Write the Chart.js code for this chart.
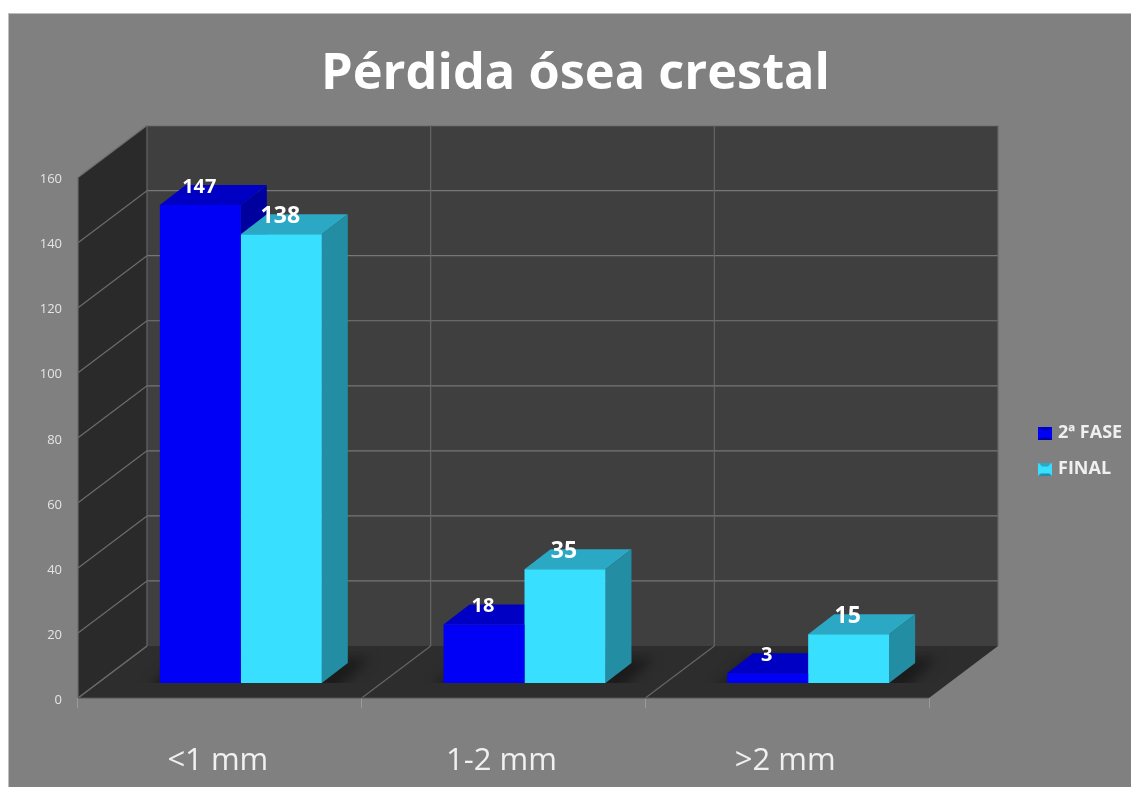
<!DOCTYPE html>
<html>
<head>
<meta charset="utf-8">
<title>Pérdida ósea crestal</title>
<script src="https://cdn.jsdelivr.net/npm/chart.js@4"></script>
<style>
    html, body { margin: 0; padding: 0; background: #fff; overflow: hidden; }
    #panel { position: absolute; left: 8px; top: 13px; right: 0; bottom: 0; background: #808080; border-left: 1px solid #bdbdbd; border-top: 1px solid #bdbdbd; }
    #wrap { position: absolute; left: 0; top: 0; width: 1131px; height: 787px; filter: blur(0.5px); }
</style>
</head>
<body>
<div id="panel"></div>
<div id="wrap"><canvas id="chart" width="1131" height="787"></canvas></div>
<script>
const categories = ["<1 mm", "1-2 mm", ">2 mm"];
const fase2Values = [147, 18, 3];
const finalValues = [138, 35, 15];
const seriesNames = ["2ª FASE", "FINAL"];

// colours per series: front, top, side
const seriesColors = [
    { front: "#0000f6", top: "#0000c4", side: "#00009e" },
    { front: "#39dfff", top: "#2ba8c3", side: "#238da4" },
];

// fake 3D depth, in pixels
const WALL_DX = 69, WALL_DY = -52;
const BAR_DX = 21, BAR_DY = -15;
const DEPTH_DX = 26, DEPTH_DY = -20;

function polygon(ctx, points, fill) {
    ctx.beginPath();
    points.forEach((p, i) => (i ? ctx.lineTo(p[0], p[1]) : ctx.moveTo(p[0], p[1])));
    ctx.closePath();
    ctx.fillStyle = fill;
    ctx.fill();
}

function line(ctx, x1, y1, x2, y2, color) {
    ctx.beginPath();
    ctx.moveTo(x1, y1);
    ctx.lineTo(x2, y2);
    ctx.strokeStyle = color;
    ctx.lineWidth = 1.2;
    ctx.stroke();
}

function legendIcon(colors) {
    const icon = document.createElement("canvas");
    icon.width = 14;
    icon.height = 13;
    const c = icon.getContext("2d");
    c.fillStyle = colors.front;
    c.fillRect(0, 0, 14, 13);
    polygon(c, [[0, 0], [14, 0], [10, 4], [4, 4]], colors.top);
    polygon(c, [[0, 13], [14, 13], [11, 11], [3, 11]], colors.side);
    return icon;
}

const box3dPlugin = {
    id: "box3d",
    beforeLayout(chart) {
        // keep the empty strip between the walls and the legend
        const legend = chart.legend;
        if (!legend._fit) {
            legend._fit = legend.fit;
            legend.fit = function () {
                this._fit();
                this.width = 202;
            };
        }
    },
    afterLayout(chart) {
        const legend = chart.legend;
        legend.left = 1023;
        legend.right = 1131;
        legend.top = 406;
        legend.bottom = 698;
    },
    beforeDatasetsDraw(chart) {
        const { ctx, chartArea: area, scales } = chart;
        const { left, right, top, bottom } = area;
        const catWidth = (right - left) / categories.length;
        const yTicks = scales.y.ticks.map((t) => scales.y.getPixelForValue(t.value));

        // side wall, back wall, floor
        polygon(ctx, [[left, top], [left + WALL_DX, top + WALL_DY], [left + WALL_DX, bottom + WALL_DY], [left, bottom]], "#2a2a2a");
        polygon(ctx, [[left + WALL_DX, top + WALL_DY], [right + WALL_DX, top + WALL_DY], [right + WALL_DX, bottom + WALL_DY], [left + WALL_DX, bottom + WALL_DY]], "#3f3f3f");
        polygon(ctx, [[left, bottom], [right, bottom], [right + WALL_DX, bottom + WALL_DY], [left + WALL_DX, bottom + WALL_DY]], "#2d2d2d");

        yTicks.forEach((y) => {
            line(ctx, left, y, left + WALL_DX, y + WALL_DY, "#6c6c6c");
            if (y < bottom) line(ctx, left + WALL_DX, y + WALL_DY, right + WALL_DX, y + WALL_DY, "#777777");
        });
        for (let i = 0; i <= categories.length; i++) {
            const x = left + i * catWidth;
            line(ctx, x + WALL_DX, top + WALL_DY, x + WALL_DX, bottom + WALL_DY, "#666666");
            if (i < categories.length) line(ctx, x, bottom, x + WALL_DX, bottom + WALL_DY, "#666666");
        }
        line(ctx, left, top, left, bottom, "#6c6c6c");
        line(ctx, left, bottom, right, bottom, "#555555");

        ctx.save();
        ctx.translate(BAR_DX, BAR_DY);

        // soft shadow on the floor under each pair of bars
        const first = chart.getDatasetMeta(0).data;
        const second = chart.getDatasetMeta(1).data;
        first.forEach((bar, i) => {
            const x1 = bar.x - bar.width / 2;
            const x2 = second[i].x + second[i].width / 2;
            ctx.save();
            ctx.beginPath();
            ctx.rect(x1 - 40, bottom + DEPTH_DY - 12, x2 - x1 + 110, 12 - DEPTH_DY);
            ctx.clip();
            ctx.filter = "blur(6px)";
            polygon(ctx, [[x1 - 12, bottom + 6], [x2 + 16, bottom + 6], [x2 + 48, bottom + DEPTH_DY - 5], [x1 + 20, bottom + DEPTH_DY - 5]], "#1b1b1b");
            ctx.restore();
        });

        // top and side faces; the library draws the fronts
        [0, 1].forEach((d) => {
            chart.getDatasetMeta(d).data.forEach((bar) => {
                const x1 = bar.x - bar.width / 2;
                const x2 = bar.x + bar.width / 2;
                polygon(ctx, [[x1, bar.y], [x1 + DEPTH_DX, bar.y + DEPTH_DY], [x2 + DEPTH_DX, bar.y + DEPTH_DY], [x2, bar.y]], seriesColors[d].top);
                polygon(ctx, [[x2, bar.y], [x2 + DEPTH_DX, bar.y + DEPTH_DY], [x2 + DEPTH_DX, bar.base + DEPTH_DY], [x2, bar.base]], seriesColors[d].side);
            });
        });
    },
    afterDatasetsDraw(chart) {
        const { ctx } = chart;
        // value labels stay in the shifted bar plane
        ctx.textAlign = "center";
        ctx.textBaseline = "middle";
        ctx.fillStyle = "#ffffff";
        chart.data.datasets.forEach((ds, d) => {
            ctx.font = "bold " + (d === 0 ? 20 : 23) + "px 'Open Sans'";
            chart.getDatasetMeta(d).data.forEach((bar, i) => {
                ctx.fillText(String(ds.data[i]), bar.x - 1, bar.y - 18);
            });
        });
        ctx.restore();
    },
};

new Chart(document.getElementById("chart"), {
    type: "bar",
    data: {
        labels: categories,
        datasets: [
            { label: seriesNames[0], data: fase2Values, backgroundColor: seriesColors[0].front, clip: false },
            { label: seriesNames[1], data: finalValues, backgroundColor: seriesColors[1].front, clip: false },
        ],
    },
    options: {
        responsive: false,
        animation: false,
        layout: { padding: { left: 20, right: 0, top: 0, bottom: 0 } },
        datasets: { bar: { categoryPercentage: 0.571, barPercentage: 1 } },
        plugins: {
            tooltip: { enabled: false },
            title: {
                display: true,
                text: "Pérdida ósea crestal",
                color: "#ffffff",
                font: { family: "'Open Sans'", size: 50.5, weight: "bold", lineHeight: 1.2 },
                padding: { top: 44, bottom: 73 },
            },
            legend: {
                position: "right",
                align: "start",
                onClick: null,
                labels: {
                    color: "#f0f0f0",
                    font: { family: "'Open Sans'", size: 18, weight: "bold" },
                    boxWidth: 8,
                    padding: 18,
                    usePointStyle: true,
                    generateLabels(chart) {
                        return chart.data.datasets.map((ds, i) => ({
                            text: ds.label,
                            fontColor: "#f0f0f0",
                            pointStyle: legendIcon(seriesColors[i]),
                            datasetIndex: i,
                        }));
                    },
                },
            },
        },
        scales: {
            x: {
                afterFit(scale) { scale.height = 89; },
                border: { display: false },
                grid: { drawOnChartArea: false, color: "#9a9a9a", tickLength: 10 },
                ticks: { color: "#f0f0f0", font: { family: "'Open Sans'", size: 31 }, padding: 35, maxRotation: 0, labelOffset: -2 },
            },
            y: {
                min: 0,
                max: 160,
                afterFit(scale) { scale.width = 58; },
                border: { display: false },
                grid: { display: false },
                ticks: { stepSize: 20, color: "#e4e4e4", font: { family: "'Open Sans'", size: 13 }, padding: 8, labelOffset: 2 },
            },
        },
    },
    plugins: [box3dPlugin],
});
</script>
</body>
</html>
